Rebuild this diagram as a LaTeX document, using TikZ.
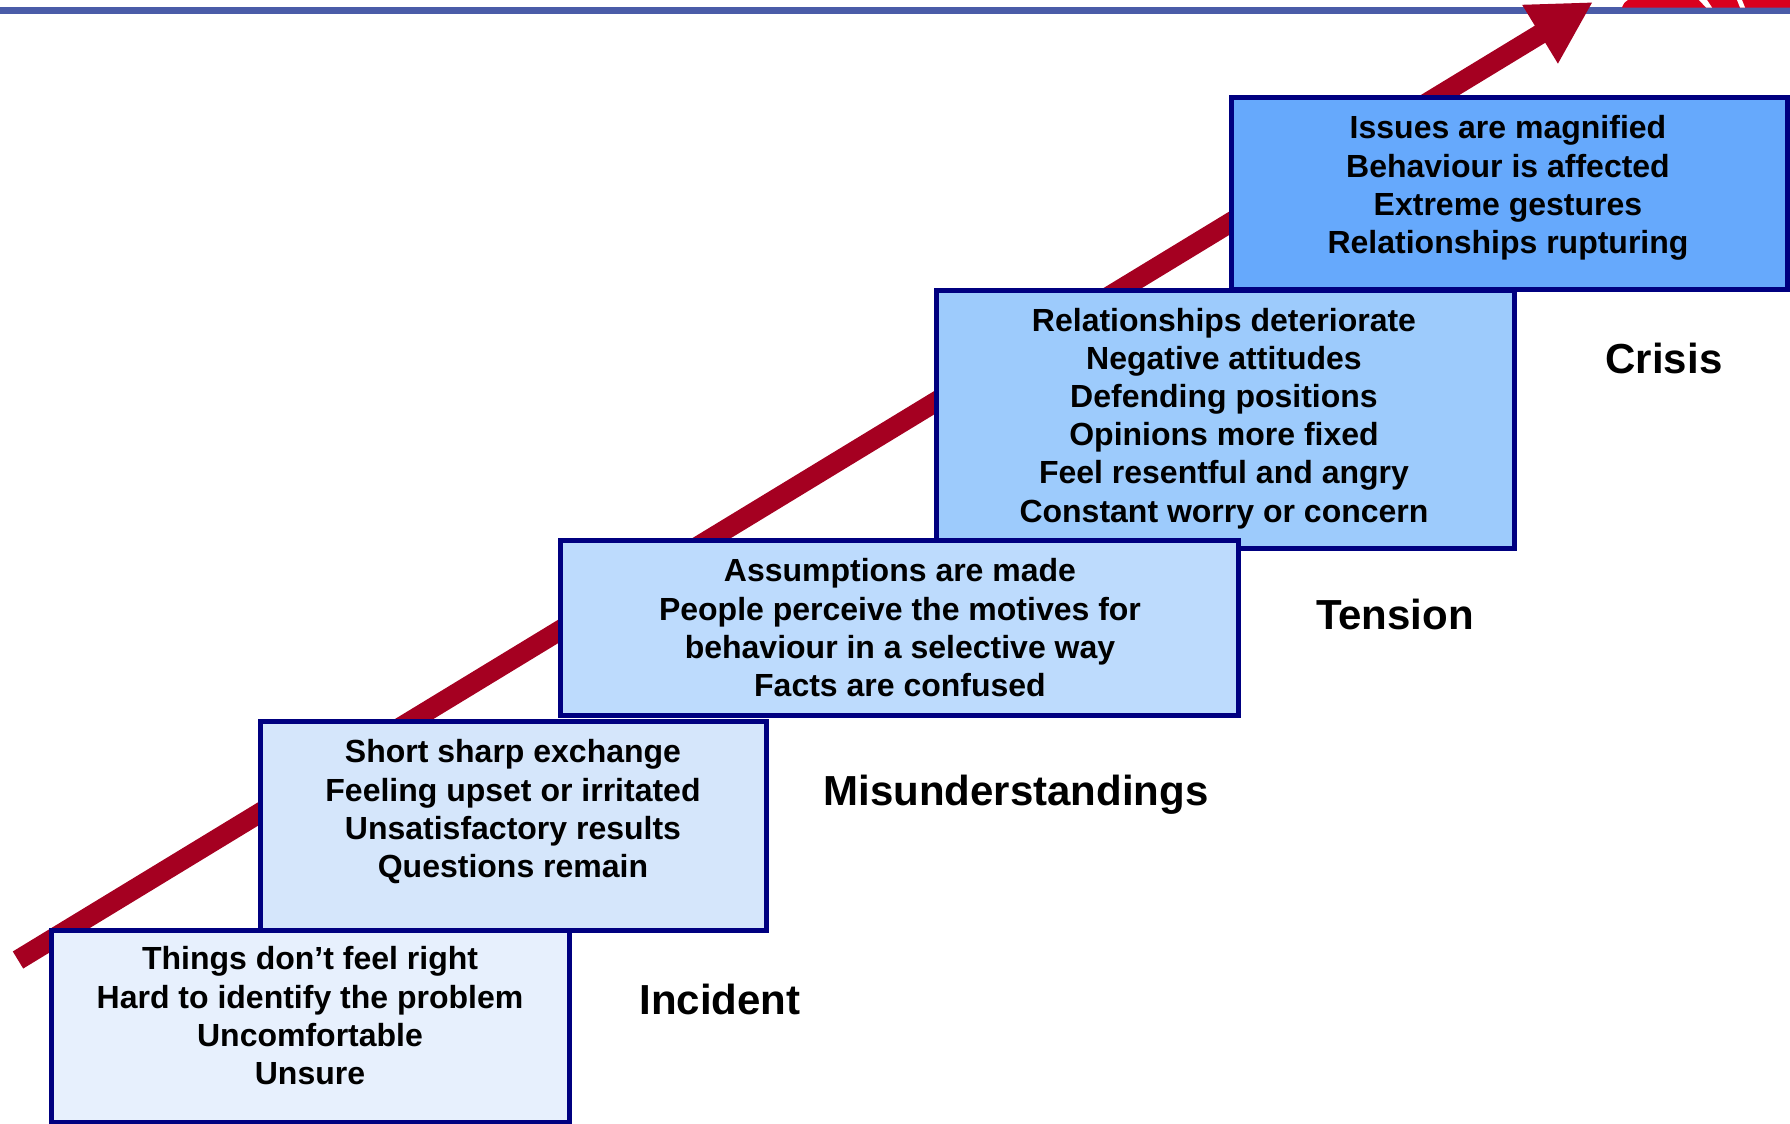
\documentclass[tikz,border=0pt]{standalone}
\usepackage{fontspec}
\setmainfont{Liberation Sans}
\usetikzlibrary{arrows.meta}
\definecolor{navy}{HTML}{000080}
\definecolor{arrowred}{HTML}{A50021}
\definecolor{topblue}{HTML}{4A5CA8}
\definecolor{logored}{HTML}{D9001E}
\definecolor{fillA}{HTML}{E7F0FD}
\definecolor{fillB}{HTML}{D5E6FB}
\definecolor{fillC}{HTML}{BDDBFD}
\definecolor{fillD}{HTML}{9DCBFC}
\definecolor{fillE}{HTML}{66A9FC}
\tikzset{
  stagebox/.style={draw=navy, line width=2.5pt, rectangle, inner sep=0pt},
  stagetext/.style={align=center, anchor=base, inner sep=0pt,
    font=\fontsize{16pt}{19.1pt}\selectfont\bfseries},
  stagelabel/.style={anchor=base, inner sep=0pt,
    font=\fontsize{21pt}{25pt}\selectfont\bfseries},
  bigarrow/.style={draw=arrowred, line width=10pt,
    -{Triangle[length=31pt,width=32pt,fill=arrowred]}},
}
\begin{document}
\begin{tikzpicture}[x=0.5pt,y=-0.5pt]
\useasboundingbox (0,0) rectangle (1790,1124);
% top rule and partial logo
\coordinate (ruleL) at (0,10.7);
\coordinate (ruleR) at (1790,10.7);
\draw[topblue, line width=3.3pt] (ruleL) -- (ruleR);
\fill[logored] (1622,7.5) .. controls (1624,3) .. (1628,0) -- (1790,0) -- (1790,7.5) -- cycle;
\fill[white] (1699,0) -- (1707,0) -- (1712,7.5) -- (1706,7.5) -- cycle;
\fill[white] (1737,0) -- (1742,0) -- (1745,7.5) -- (1740,7.5) -- cycle;
% arrow
\coordinate (tail) at (18,960);
\coordinate (tip) at (1593,2);
\draw[bigarrow] (tail) -- (tip);
% boxes (upper first so lower ones overlap)
\node[stagebox, fill=fillE, minimum width=278pt, minimum height=96pt] (b5) at (1509,193) {};
\node[stagebox, fill=fillD, minimum width=289pt, minimum height=129pt] (b4) at (1225,419) {};
\node[stagebox, fill=fillC, minimum width=339pt, minimum height=87.5pt] (b3) at (899,627.5) {};
\node[stagebox, fill=fillB, minimum width=253pt, minimum height=104.5pt] (b2) at (513,825.5) {};
\node[stagebox, fill=fillA, minimum width=259pt, minimum height=96pt] (b1) at (310,1026) {};
% box texts (anchored at baseline of last line)
\node[stagetext] (t1) at (310,1084.5) {Things don’t feel right\\Hard to identify the problem\\Uncomfortable\\Unsure};
\node[stagetext] (t2) at (513,877.5) {Short sharp exchange\\Feeling upset or irritated\\Unsatisfactory results\\Questions remain};
\node[stagetext] (t3) at (900,696.5) {Assumptions are made\\People perceive the motives for\\behaviour in a selective way\\Facts are confused};
\node[stagetext] (t4) at (1224,522) {Relationships deteriorate\\Negative attitudes\\Defending positions\\Opinions more fixed\\Feel resentful and angry\\Constant worry or concern};
\node[stagetext] (t5) at (1508,253.5) {Issues are magnified\\Behaviour is affected\\Extreme gestures\\Relationships rupturing};
% stage labels
\node[stagelabel] (l1) at (720,1014) {Incident};
\node[stagelabel] (l2) at (1016,805) {Misunderstandings};
\node[stagelabel] (l3) at (1395,629) {Tension};
\node[stagelabel] (l4) at (1664,373) {Crisis};
\end{tikzpicture}
\end{document}
